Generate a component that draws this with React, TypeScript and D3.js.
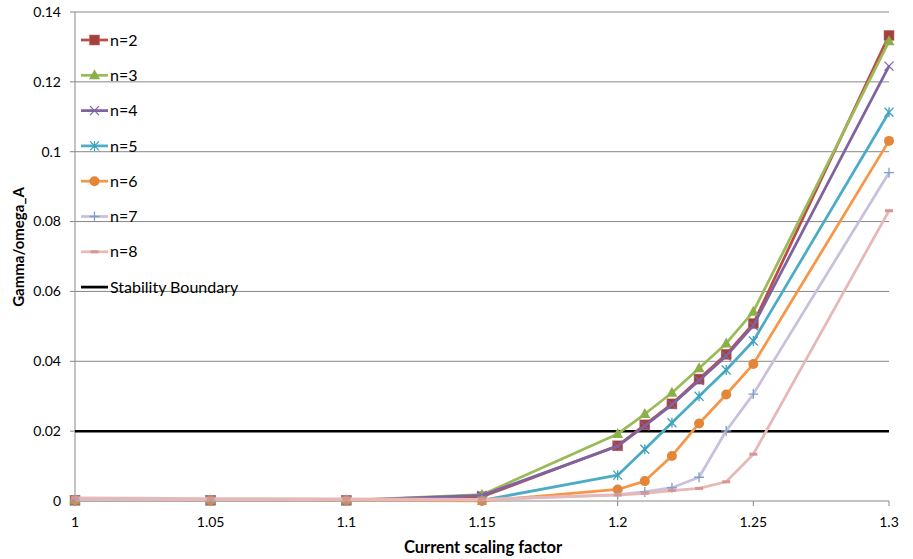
import React, { useRef, useEffect } from "react";
import * as d3 from "d3";

const xValues = [1, 1.05, 1.1, 1.15, 1.2, 1.21, 1.22, 1.23, 1.24, 1.25, 1.3];
const n2 = [0.0002, 0.0002, 0.0002, 0.0012, 0.0158, 0.0218, 0.0278, 0.0349, 0.042, 0.0508, 0.1333];
const n3 = [0.0002, 0.0002, 0.0002, 0.0018, 0.0192, 0.0249, 0.031, 0.038, 0.0451, 0.0542, 0.1316];
const n4 = [0.0002, 0.0002, 0.0002, 0.0016, 0.0157, 0.0215, 0.0276, 0.0345, 0.0415, 0.0502, 0.1245];
const n5 = [0.0002, 0.0002, 0.0002, 0.0002, 0.0074, 0.0148, 0.0224, 0.03, 0.0375, 0.0458, 0.1113];
const n6 = [0.0002, 0.0002, 0.0002, 0.0, 0.0033, 0.0057, 0.0129, 0.0222, 0.0305, 0.0392, 0.1031];
const n7 = [0.0003, 0.0003, 0.0003, 0.0003, 0.0018, 0.0026, 0.0038, 0.0068, 0.0201, 0.0306, 0.094];
const n8 = [0.0009, 0.0007, 0.0006, 0.0005, 0.0017, 0.0022, 0.003, 0.0036, 0.0055, 0.0134, 0.0831];
const stabilityBoundary = 0.02;
const xTicks = [1, 1.05, 1.1, 1.15, 1.2, 1.25, 1.3];
const yTicks = [0, 0.02, 0.04, 0.06, 0.08, 0.1, 0.12, 0.14];

type Series = { name: string; values: number[]; line: string; marker: string; shape: string };

const series: Series[] = [
  { name: "n=2", values: n2, line: "#BE4B48", marker: "#A5403D", shape: "square" },
  { name: "n=3", values: n3, line: "#9BBB59", marker: "#8CB048", shape: "triangle" },
  { name: "n=4", values: n4, line: "#7F63A1", marker: "#7F63A1", shape: "x" },
  { name: "n=5", values: n5, line: "#4BACC6", marker: "#3FA2BC", shape: "star" },
  { name: "n=6", values: n6, line: "#F79646", marker: "#E3863A", shape: "circle" },
  { name: "n=7", values: n7, line: "#C9C0DC", marker: "#7F9ED0", shape: "plus" },
  { name: "n=8", values: n8, line: "#E6B9B8", marker: "#D89593", shape: "dash" },
];

const W = 913;
const H = 559;
const left = 75;
const right = 889;
const top = 12;
const bottom = 501;
const FONT = "Lato, 'Open Sans', sans-serif";

function drawMarker(g: d3.Selection<SVGGElement, unknown, null, undefined>, shape: string, color: string, x: number, y: number) {
  if (shape === "square") {
    g.append("rect").attr("x", x - 5).attr("y", y - 5).attr("width", 10).attr("height", 10).attr("fill", color).attr("stroke", "#B96A66").attr("stroke-width", 0.5);
  } else if (shape === "triangle") {
    g.append("path").attr("d", `M${x},${y - 6}L${x + 5.5},${y + 4}L${x - 5.5},${y + 4}Z`).attr("fill", color);
  } else if (shape === "circle") {
    g.append("circle").attr("cx", x).attr("cy", y).attr("r", 5).attr("fill", color);
  } else if (shape === "x") {
    g.append("path").attr("d", `M${x - 4.5},${y - 4.5}L${x + 4.5},${y + 4.5}M${x - 4.5},${y + 4.5}L${x + 4.5},${y - 4.5}`).attr("stroke", color).attr("stroke-width", 1.3);
  } else if (shape === "star") {
    g.append("path").attr("d", `M${x - 4.5},${y - 4.5}L${x + 4.5},${y + 4.5}M${x - 4.5},${y + 4.5}L${x + 4.5},${y - 4.5}M${x},${y - 5}L${x},${y + 5}`).attr("stroke", color).attr("stroke-width", 1.3);
  } else if (shape === "plus") {
    g.append("path").attr("d", `M${x - 5},${y}L${x + 5},${y}M${x},${y - 5}L${x},${y + 5}`).attr("stroke", color).attr("stroke-width", 1.3);
  } else if (shape === "dash") {
    g.append("rect").attr("x", x - 4).attr("y", y - 1.5).attr("width", 8).attr("height", 3).attr("fill", color);
  }
}

const App = () => {
  const ref = useRef<SVGSVGElement | null>(null);

  useEffect(() => {
    const svg = d3.select(ref.current);
    svg.selectAll("*").remove();

    const x = d3.scaleLinear().domain([1, 1.3]).range([left, right]);
    const y = d3.scaleLinear().domain([0, 0.14]).range([bottom, top]);

    // gridlines
    svg.append("g")
      .selectAll("line")
      .data(yTicks.slice(1))
      .enter()
      .append("line")
      .attr("x1", left - 5)
      .attr("x2", right)
      .attr("y1", (d) => y(d))
      .attr("y2", (d) => y(d))
      .attr("stroke", "#878787")
      .attr("stroke-width", 1);

    // axes
    svg.append("line").attr("x1", left).attr("x2", left).attr("y1", top).attr("y2", bottom).attr("stroke", "#878787");
    svg.append("line").attr("x1", left - 5).attr("x2", right).attr("y1", bottom).attr("y2", bottom).attr("stroke", "#878787");

    svg.append("g")
      .selectAll("line")
      .data(xTicks)
      .enter()
      .append("line")
      .attr("x1", (d) => x(d))
      .attr("x2", (d) => x(d))
      .attr("y1", bottom)
      .attr("y2", bottom + 5)
      .attr("stroke", "#878787");

    svg.append("g")
      .selectAll("text")
      .data(yTicks)
      .enter()
      .append("text")
      .attr("x", 61)
      .attr("y", (d) => y(d))
      .attr("dy", "0.35em")
      .attr("text-anchor", "end")
      .attr("font-family", FONT)
      .attr("font-size", 14)
      .attr("fill", "#000")
      .text((d) => String(+d.toFixed(2)));

    svg.append("g")
      .selectAll("text")
      .data(xTicks)
      .enter()
      .append("text")
      .attr("x", (d) => x(d))
      .attr("y", 522)
      .attr("dy", "0.35em")
      .attr("text-anchor", "middle")
      .attr("font-family", FONT)
      .attr("font-size", 14)
      .attr("fill", "#000")
      .text((d) => String(+d.toFixed(2)));

    // axis titles
    svg.append("text")
      .attr("x", 483)
      .attr("y", 547)
      .attr("dy", "0.35em")
      .attr("text-anchor", "middle")
      .attr("font-family", FONT)
      .attr("font-size", 16.5)
      .attr("font-weight", "bold")
      .text("Current scaling factor");

    svg.append("text")
      .attr("transform", `translate(19,247) rotate(-90)`)
      .attr("dy", "0.35em")
      .attr("text-anchor", "middle")
      .attr("font-family", FONT)
      .attr("font-size", 15)
      .attr("font-weight", "bold")
      .text("Gamma/omega_A");

    // stability boundary
    svg.append("line")
      .attr("x1", left)
      .attr("x2", right)
      .attr("y1", y(stabilityBoundary))
      .attr("y2", y(stabilityBoundary))
      .attr("stroke", "#000")
      .attr("stroke-width", 2.5);

    const line = d3.line<number>()
      .x((_, i) => x(xValues[i]))
      .y((d) => y(d));

    // series order: later series on top, as in the spreadsheet
    series.forEach((s) => {
      const g = svg.append("g");
      g.append("path")
        .attr("d", line(s.values) as string)
        .attr("fill", "none")
        .attr("stroke", s.line)
        .attr("stroke-width", 2.75)
        .attr("stroke-linejoin", "round");
      s.values.forEach((v, i) => drawMarker(g as any, s.shape, s.marker, x(xValues[i]), y(v)));
    });

    // legend
    const legendItems = [...series.map((s) => ({ name: s.name, line: s.line, marker: s.marker, shape: s.shape })),
      { name: "Stability Boundary", line: "#000", marker: "#000", shape: "none" }];
    legendItems.forEach((item, i) => {
      const ly = 40 + i * 35.3;
      const g = svg.append("g");
      g.append("line")
        .attr("x1", 81)
        .attr("x2", 108)
        .attr("y1", ly)
        .attr("y2", ly)
        .attr("stroke", item.line)
        .attr("stroke-width", 2.75);
      drawMarker(g as any, item.shape, item.marker, 94.5, ly);
      g.append("text")
        .attr("x", 110)
        .attr("y", ly)
        .attr("dy", "0.35em")
        .attr("font-family", FONT)
        .attr("font-size", 16)
        .attr("fill", "#000")
        .text(item.name);
    });
  }, []);

  return (
    <svg ref={ref} width={W} height={H} viewBox={`0 0 ${W} ${H}`} style={{ position: "absolute", left: 0, top: 0, background: "#fff" }} />
  );
};

export default App;
